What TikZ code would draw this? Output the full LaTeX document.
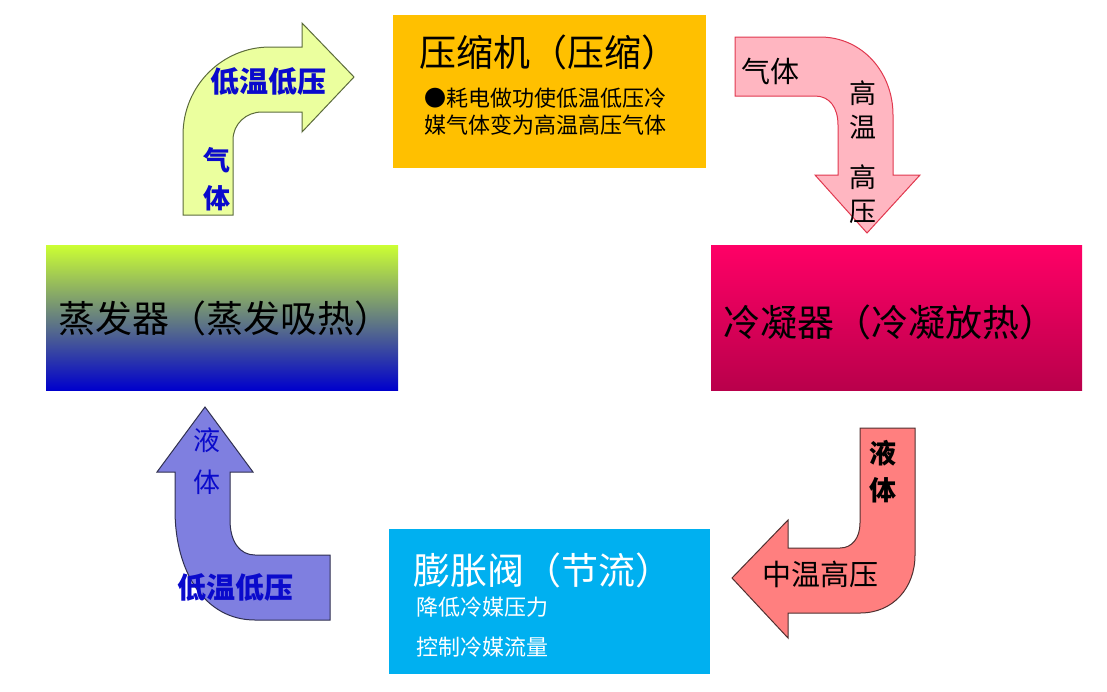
\documentclass[tikz,border=0pt]{standalone}
\usepackage{fontspec}
\setmainfont{Noto Sans CJK SC}
\definecolor{cyel}{HTML}{FFC000}
\definecolor{cblu}{HTML}{00B0F0}
\definecolor{ctxtblue}{HTML}{0A0ACC}
\definecolor{agreen}{HTML}{EBFF9E}
\definecolor{agreenl}{HTML}{5C6B3C}
\definecolor{apink}{HTML}{FFB6C1}
\definecolor{apinkl}{HTML}{E0384E}
\definecolor{asalm}{HTML}{FF7F7F}
\definecolor{asalml}{HTML}{503030}
\definecolor{apurp}{HTML}{7F7FE0}
\definecolor{apurpl}{HTML}{303050}
\tikzset{
  x=1pt, y=-1pt,
  box/.style={inner sep=0pt, outer sep=0pt},
  big/.style={font=\fontsize{37}{40}\selectfont, inner sep=0pt},
  small/.style={font=\fontsize{22}{27}\selectfont, inner sep=0pt},
  albl/.style={font=\fontsize{29}{32}\selectfont, inner sep=0pt},
  vlbl/.style={font=\fontsize{27}{38}\selectfont, inner sep=0pt, align=center},
  blockarrow/.style={line width=1pt, line join=miter}
}
\begin{document}
\begin{tikzpicture}
\useasboundingbox (0,0) rectangle (1107,691);
% boxes
\node[box, fill=cyel, minimum width=313pt, minimum height=153pt] (comp) at (549.5,91.5) {};
\node[box, minimum width=352pt, minimum height=145pt, top color={rgb,255:red,204;green,255;blue,51}, middle color={rgb,255:red,150;green,185;blue,160}, bottom color={rgb,255:red,0;green,0;blue,204}] (evap) at (222,317.5) {};
\node[box, minimum width=371pt, minimum height=145pt, top color={rgb,255:red,255;green,0;blue,102}, bottom color={rgb,255:red,185;green,0;blue,75}] (cond) at (896.5,317.5) {};
\node[box, fill=cblu, minimum width=321pt, minimum height=145pt] (valve) at (549.5,601.5) {};

% box texts
\node[big] (compT) at (549,52) {压缩机（压缩）};
\node[small, align=center] (compD) at (545,111.5) {●耗电做功使低温低压冷\\媒气体变为高温高压气体};
\node[big] (evapT) at (225,318) {蒸发器（蒸发吸热）};
\node[big] (condT) at (890,322) {冷凝器（冷凝放热）};
\node[big, text=white] (valveT) at (543,570) {膨胀阀（节流）};
\node[small, text=white, anchor=west] (valveD1) at (416,607) {降低冷媒压力};
\node[small, text=white, anchor=west] (valveD2) at (416,647) {控制冷媒流量};

% arrow 1: evaporator -> compressor
\draw[blockarrow, fill=agreen, draw=agreenl]
  (183,215) -- (183,135) .. controls (183,86) and (222,47) .. (270,47) -- (302,47) -- (302,23) -- (354,77)
  -- (302,132) -- (302,112) -- (262,112) .. controls (246,112) and (233,124) .. (233,140) -- (233,215) -- cycle;
\node[albl, text=ctxtblue, font=\fontsize{29}{32}\selectfont\bfseries] (a1a) at (268,82) {低温低压};
\node[vlbl, text=ctxtblue, font=\fontsize{27}{38}\selectfont\bfseries] (a1b) at (217,179) {气\\体};

% arrow 2: compressor -> condenser
\draw[blockarrow, fill=apink, draw=apinkl]
  (735,37) -- (820,37) .. controls (862,37) and (893,72) .. (893,115) -- (893,175) -- (920,175) -- (867,233)
  -- (815,175) -- (838,175) -- (838,125) .. controls (838,108) and (830,96) .. (815,96) -- (735,96) -- cycle;
\node[albl] (a2a) at (770,71) {气体};
\node[vlbl, font=\fontsize{27}{34}\selectfont] (a2b) at (863,110) {高\\温};
\node[vlbl, font=\fontsize{27}{34}\selectfont] (a2c) at (863,194) {高\\压};

% arrow 3: condenser -> valve
\draw[blockarrow, fill=asalm, draw=asalml]
  (860,428) -- (915,428) -- (915,555) .. controls (915,588) and (893,613) .. (860,613) -- (788,613) -- (788,638)
  -- (732,578) -- (788,520) -- (788,548) -- (840,548) .. controls (852,548) and (860,538) .. (860,523) -- cycle;
\node[vlbl, font=\fontsize{27}{37}\selectfont\bfseries] (a3a) at (883,472) {液\\体};
\node[albl] (a3b) at (820,574) {中温高压};

% arrow 4: valve -> evaporator
\draw[blockarrow, fill=apurp, draw=apurpl]
  (330,555) -- (330,620) -- (255,620) .. controls (205,620) and (175,572) .. (175,510) -- (175,472) -- (157,472)
  -- (205,407) -- (253,472) -- (230,472) -- (230,520) .. controls (230,542) and (240,555) .. (255,555) -- cycle;
\node[vlbl, text=ctxtblue, font=\fontsize{27}{42}\selectfont] (a4a) at (207,461) {液\\体};
\node[albl, text=ctxtblue, font=\fontsize{29}{32}\selectfont\bfseries] (a4b) at (235,587) {低温低压};
\end{tikzpicture}
\end{document}
